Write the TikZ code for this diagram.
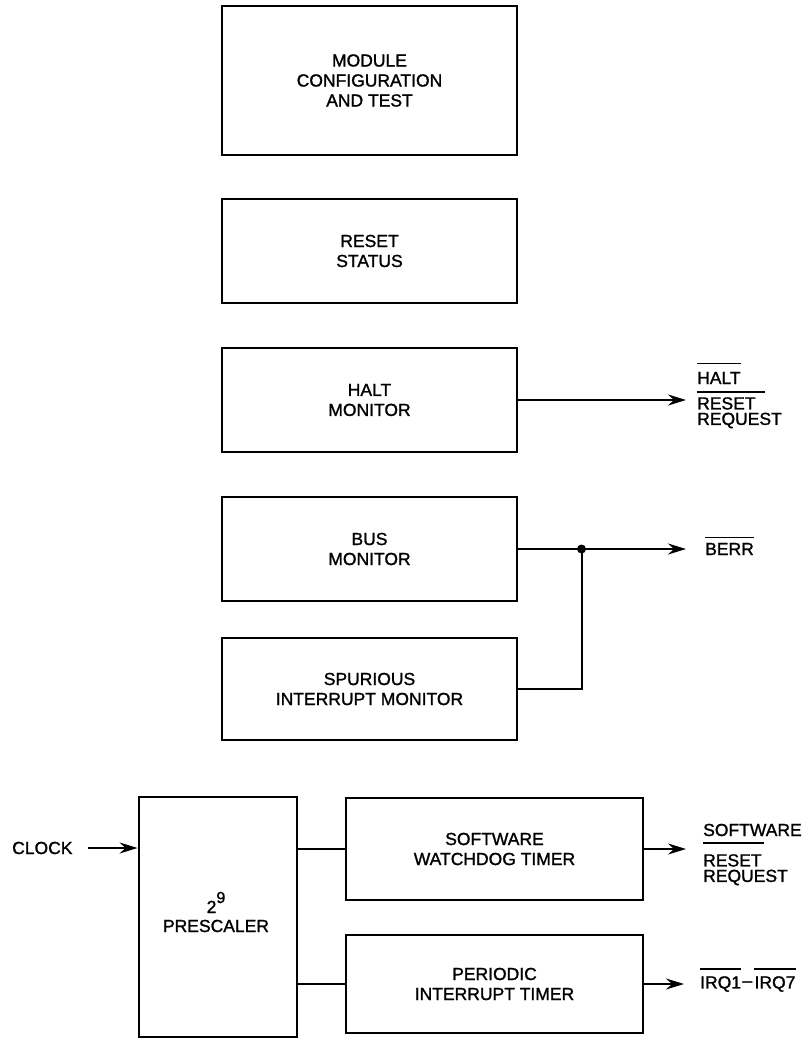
\documentclass[tikz,border=0pt]{standalone}
\usepackage{fontspec}
\setmainfont{Liberation Sans}
\font\medf="Liberation Sans:embolden=1.3" at 17.5pt
\font\medsm="Liberation Sans:embolden=1.3" at 16pt
\newcommand\blkfont{\medf\baselineskip=20pt\relax}
\newcommand\lblfont{\medf\baselineskip=15.5pt\relax}
\newcommand\prefont{\medf\baselineskip=19pt\relax}
\usetikzlibrary{arrows.meta,calc}
\begin{document}
\begin{tikzpicture}[x=1pt,y=-1pt,
  blk/.style={draw,line width=2.8pt,align=center,inner sep=0pt,
    font=\blkfont},
  lbl/.style={inner sep=0pt,align=left,font=\lblfont},
  wire/.style={line width=2pt},
  arr/.style={wire,-{Stealth[length=18pt,width=11pt,inset=6pt]}},
  bar/.style={line width=1.4pt}]
\useasboundingbox (0,0) rectangle (805,1038);
% blocks
\node[blk,minimum width=295pt,minimum height=149pt] (mod) at (369.5,80.5) {MODULE\\CONFIGURATION\\AND TEST};
\node[blk,minimum width=295pt,minimum height=104pt] (rst) at (369.5,251) {RESET\\STATUS};
\node[blk,minimum width=295pt,minimum height=104pt] (halt) at (369.5,400) {HALT\\MONITOR};
\node[blk,minimum width=295pt,minimum height=104pt] (bus) at (369.5,549) {BUS\\MONITOR};
\node[blk,minimum width=295pt,minimum height=102pt] (spur) at (369.5,689) {SPURIOUS\\INTERRUPT MONITOR};
\node[blk,minimum width=158pt,minimum height=240pt] (presc) at (218,917) {};
\node[lbl,align=center,font=\prefont] (prestxt) at (216,912) {2\raisebox{10pt}{\medsm 9}\\PRESCALER};
\node[blk,minimum width=297pt,minimum height=102pt] (wd) at (494.5,849) {SOFTWARE\\WATCHDOG TIMER};
\node[blk,minimum width=297pt,minimum height=98pt] (pit) at (494.5,984) {PERIODIC\\INTERRUPT TIMER};
% coordinates
\coordinate (haltend) at (686,400);
\coordinate (busend) at (686,549);
\coordinate (jn) at (581.5,549);
\coordinate (wdend) at (686,849);
\coordinate (pitend) at (684,984);
% connectors
\draw[arr] (halt.east) -- (haltend);
\draw[arr] (bus.east) -- (busend);
\draw[wire] (spur.east) -- (jn |- spur.east) -- (jn);
\fill (jn) circle (4.5pt);
\node[lbl,anchor=west] (clock) at (12,848) {CLOCK};
\draw[arr] ([xshift=15pt]clock.east) -- (presc.west |- clock);
\draw[wire] (presc.east |- wd.west) -- (wd.west);
\draw[wire] (presc.east |- pit.west) -- (pit.west);
\draw[arr] (wd.east) -- (wdend);
\draw[arr] (pit.east) -- (pitend);
% right-hand labels
\node[lbl,anchor=west] (hlbl) at (697,378) {HALT};
\draw[bar] ([yshift=8pt]hlbl.north west) -- ([yshift=8pt]hlbl.north east);
\node[lbl,anchor=north west] (hreq) at (697,397) {RESET\\REQUEST};
\draw[bar] ([yshift=5pt]hreq.north west) -- ([yshift=5pt,xshift=68pt]hreq.north west);
\node[lbl,anchor=west] (berr) at (705,549) {BERR};
\draw[bar] ([yshift=5.5pt]berr.north west) -- ([yshift=5.5pt]berr.north east);
\node[lbl,anchor=west] (swl) at (703,830) {SOFTWARE};
\node[lbl,anchor=north west] (swreq) at (703,854) {RESET\\REQUEST};
\draw[bar] ([yshift=11pt]swreq.north west) -- ([yshift=11pt,xshift=61pt]swreq.north west);
\node[lbl,anchor=west] (irqa) at (700,984) {IRQ1};
\node[lbl,anchor=west,xshift=1pt] (irqd) at (irqa.east) {–};
\node[lbl,anchor=west,xshift=2pt] (irqb) at (irqd.east) {IRQ7};
\draw[bar] ([yshift=7pt]irqa.north west) -- ([yshift=7pt]irqa.north east);
\draw[bar] ([yshift=7pt]irqb.north west) -- ([yshift=7pt]irqb.north east);
\end{tikzpicture}
\end{document}
